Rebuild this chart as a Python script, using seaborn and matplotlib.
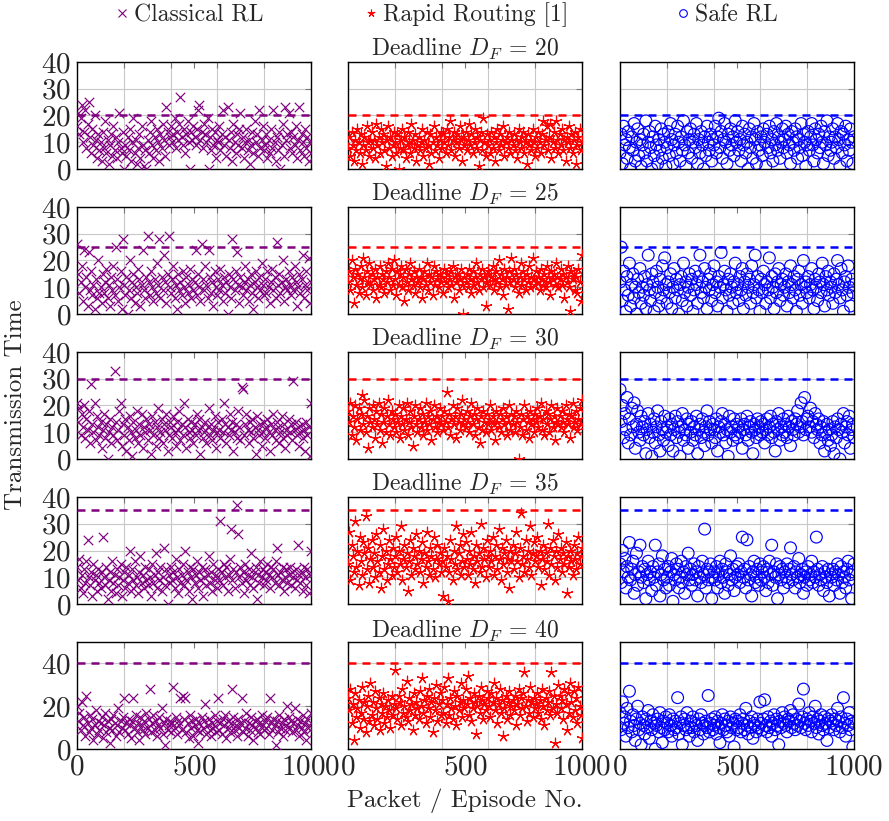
import numpy as np
import pandas as pd
import matplotlib
matplotlib.use("Agg")
import matplotlib.pyplot as plt
from matplotlib.lines import Line2D
import seaborn as sns

# ---------------------------------------------------------------------------
# Transmission time per packet/episode, one list per method and deadline
# ---------------------------------------------------------------------------
deadlines = [20, 25, 30, 35, 40]
methods = ["Classical RL", "Rapid Routing [1]", "Safe RL"]

crl_20 = [16, 21, 13, 19, 24, 10, 14, 22, 8, 17, 25, 12, 6, 15, 9, 20, 11, 4, 13, 7,
          10, 3, 14, 8, 18, 6, 11, 2, 9, 13, 5, 16, 7, 12, 4, 10, 21, 8, 6, 14,
          0, 9, 5, 12, 7, 15, 3, 10, 19, 6, 11, 2, 8, 13, 4, 16, 9, 1, 7, 0,
          11, 6, 14, 18, 9, 4, 12, 7, 15, 10, 3, 13, 8, 17, 11, 5, 23, 14, 9, 12,
          16, 10, 13, 19, 8, 14, 11, 17, 27, 12, 9, 15, 6, 13, 18, 10, 0, 14, 11, 16,
          12, 9, 15, 22, 24, 11, 14, 8, 17, 13, 10, 19, 0, 12, 7, 15, 9, 14, 4, 11,
          10, 16, 7, 13, 22, 9, 12, 5, 23, 11, 8, 14, 3, 17, 10, 6, 13, 9, 15, 21,
          8, 12, 4, 10, 15, 7, 11, 2, 9, 14, 6, 18, 10, 13, 5, 22, 8, 11, 16, 7,
          9, 13, 4, 11, 6, 15, 8, 22, 10, 3, 12, 7, 14, 0, 9, 17, 5, 23, 11, 13,
          21, 8, 14, 6, 12, 9, 16, 4, 11, 23, 7, 13, 10, 5, 15, 8, 12, 3, 10, 6]
rr_20 = [8, 12, 5, 14, 9, 3, 11, 7, 15, 10, 6, 13, 2, 9, 12, 7, 16, 10, 5, 11,
         14, 8, 11, 4, 17, 9, 12, 6, 15, 10, 13, 7, 1, 11, 16, 8, 12, 5, 9, 14,
         10, 6, 13, 0, 8, 11, 15, 7, 12, 4, 9, 14, 10, 6, 17, 11, 8, 13, 3, 9,
         12, 7, 10, 15, 5, 11, 8, 14, 9, 2, 13, 6, 10, 16, 7, 12, 9, 4, 11, 14,
         8, 13, 10, 6, 15, 9, 12, 18, 7, 11, 14, 5, 10, 13, 8, 16, 11, 3, 12, 9,
         14, 7, 11, 17, 9, 13, 6, 10, 15, 8, 12, 1, 11, 14, 7, 19, 10, 5, 13, 9,
         11, 6, 14, 8, 12, 3, 10, 15, 7, 13, 9, 11, 16, 5, 10, 12, 8, 14, 6, 11,
         9, 13, 7, 11, 4, 15, 10, 8, 12, 14, 6, 10, 2, 13, 9, 11, 7, 15, 10, 5,
         12, 8, 14, 10, 6, 13, 18, 9, 11, 16, 7, 12, 17, 4, 10, 14, 8, 18, 11, 6,
         13, 9, 15, 7, 11, 3, 12, 10, 16, 8, 13, 6, 11, 14, 2, 9, 12, 15, 7, 10]
srl_20 = [6, 13, 2, 16, 9, 11, 4, 14, 8, 0, 12, 7, 17, 3, 10, 15, 5, 11, 1, 9,
          13, 6, 18, 3, 10, 14, 8, 0, 12, 5, 16, 9, 2, 11, 7, 15, 4, 13, 10, 1,
          8, 14, 5, 17, 11, 2, 9, 13, 6, 16, 10, 3, 12, 7, 18, 9, 1, 14, 6, 11,
          15, 4, 10, 13, 8, 17, 2, 11, 6, 14, 9, 0, 12, 5, 16, 10, 7, 13, 3, 11,
          9, 16, 6, 12, 19, 8, 14, 4, 11, 17, 10, 2, 13, 7, 15, 9, 12, 5, 18, 10,
          14, 7, 11, 3, 16, 9, 13, 6, 10, 0, 15, 8, 12, 4, 17, 11, 2, 14, 7, 9,
          12, 5, 15, 10, 1, 13, 8, 16, 6, 11, 3, 14, 9, 17, 7, 12, 4, 10, 15, 8,
          11, 16, 6, 13, 9, 2, 14, 10, 7, 15, 12, 4, 11, 8, 17, 5, 13, 10, 1, 9,
          14, 7, 12, 17, 9, 3, 15, 11, 6, 13, 8, 16, 10, 2, 14, 9, 18, 5, 12, 7,
          10, 15, 4, 12, 8, 17, 11, 1, 14, 6, 13, 9, 16, 3, 11, 7, 15, 10, 2, 12]

crl_25 = [26, 15, 8, 12, 18, 5, 24, 10, 14, 3, 23, 9, 16, 7, 11, 2, 13, 6, 20, 8,
          10, 4, 15, 8, 12, 17, 6, 11, 3, 14, 9, 18, 7, 25, 13, 5, 10, 16, 2, 28,
          11, 7, 14, 0, 9, 20, 6, 12, 15, 4, 10, 8, 17, 13, 3, 11, 24, 9, 6, 14,
          29, 12, 7, 16, 10, 5, 13, 8, 19, 11, 28, 6, 14, 9, 22, 12, 4, 15, 29, 10,
          8, 13, 18, 6, 11, 2, 15, 9, 12, 7, 16, 10, 4, 14, 8, 11, 17, 6, 13, 9,
          12, 24, 7, 15, 10, 5, 26, 13, 9, 18, 11, 6, 24, 14, 8, 12, 3, 16, 10, 7,
          13, 9, 17, 11, 5, 14, 8, 12, 0, 15, 10, 6, 28, 13, 9, 16, 23, 11, 4, 14,
          10, 7, 12, 18, 9, 13, 5, 11, 15, 8, 2, 12, 16, 10, 6, 14, 9, 19, 11, 7,
          13, 8, 16, 10, 4, 12, 17, 9, 14, 6, 27, 11, 15, 8, 12, 20, 5, 10, 13, 9,
          16, 11, 7, 14, 9, 18, 12, 3, 10, 15, 8, 13, 22, 6, 11, 16, 9, 21, 4, 12]
rr_25 = [12, 16, 9, 20, 14, 4, 17, 11, 15, 8, 13, 18, 10, 21, 14, 7, 16, 12, 19, 11,
         15, 9, 13, 17, 6, 14, 11, 18, 10, 15, 13, 8, 16, 12, 19, 14, 9, 17, 11, 20,
         13, 7, 16, 11, 15, 18, 10, 14, 5, 17, 12, 9, 15, 19, 13, 11, 16, 8, 14, 12,
         17, 10, 14, 6, 13, 16, 11, 19, 9, 15, 12, 14, 7, 18, 11, 16, 13, 10, 15, 12,
         14, 8, 17, 12, 15, 10, 13, 16, 11, 18, 6, 14, 12, 15, 9, 13, 17, 11, 0, 14,
         12, 15, 10, 17, 13, 8, 16, 11, 14, 19, 12, 9, 15, 13, 17, 10, 14, 3, 12, 16,
         15, 11, 14, 18, 9, 13, 16, 12, 20, 10, 15, 13, 7, 17, 11, 14, 2, 16, 12, 21,
         13, 17, 10, 15, 12, 8, 14, 19, 11, 16, 13, 9, 15, 12, 18, 10, 14, 21, 13, 11,
         16, 12, 14, 9, 17, 13, 11, 15, 10, 18, 14, 12, 7, 16, 13, 15, 11, 19, 14, 10,
         13, 17, 11, 15, 6, 14, 12, 18, 10, 1, 16, 13, 15, 9, 14, 8, 17, 12, 5, 22]
srl_25 = [12, 25, 5, 16, 9, 1, 14, 7, 19, 3, 11, 15, 6, 10, 0, 13, 8, 17, 4, 10,
          7, 14, 2, 11, 22, 9, 5, 15, 12, 1, 8, 16, 10, 3, 13, 6, 18, 9, 21, 11,
          4, 12, 8, 15, 2, 10, 17, 6, 13, 9, 0, 11, 14, 5, 19, 8, 12, 3, 10, 15,
          7, 13, 1, 9, 16, 11, 4, 14, 22, 8, 12, 6, 17, 10, 2, 13, 9, 15, 5, 11,
          18, 8, 12, 3, 14, 10, 23, 6, 11, 16, 9, 1, 13, 7, 15, 10, 4, 12, 19, 8,
          11, 5, 14, 9, 17, 2, 12, 7, 15, 10, 13, 4, 18, 8, 11, 22, 6, 14, 9, 1,
          13, 8, 16, 11, 4, 12, 9, 21, 6, 14, 10, 2, 15, 8, 12, 17, 5, 11, 13, 7,
          10, 15, 3, 12, 8, 18, 11, 6, 14, 9, 1, 13, 16, 7, 11, 4, 20, 10, 12, 8,
          14, 6, 11, 17, 9, 2, 13, 10, 5, 15, 12, 8, 19, 11, 3, 14, 9, 16, 7, 12,
          10, 4, 15, 8, 13, 20, 11, 6, 17, 9, 1, 12, 14, 7, 18, 10, 3, 13, 8, 11]

crl_30 = [21, 14, 19, 9, 17, 12, 20, 8, 15, 11, 18, 6, 28, 13, 10, 21, 7, 16, 12, 9,
          14, 4, 11, 17, 8, 13, 0, 10, 15, 6, 12, 9, 33, 14, 7, 11, 18, 21, 5, 13,
          9, 15, 3, 12, 7, 16, 10, 1, 14, 8, 11, 18, 6, 13, 9, 17, 4, 12, 10, 15,
          7, 13, 11, 2, 16, 9, 14, 5, 12, 19, 8, 10, 15, 6, 13, 11, 17, 3, 9, 14,
          12, 8, 16, 10, 5, 14, 11, 18, 7, 13, 9, 21, 12, 4, 15, 10, 8, 14, 11, 6,
          13, 9, 17, 11, 15, 2, 12, 8, 10, 14, 6, 12, 19, 9, 13, 7, 11, 16, 4, 10,
          14, 11, 8, 15, 10, 21, 13, 6, 12, 9, 17, 11, 14, 3, 10, 13, 8, 18, 12, 7,
          27, 26, 9, 13, 17, 11, 6, 14, 10, 15, 8, 12, 2, 16, 11, 9, 13, 5, 10, 14,
          8, 12, 15, 10, 3, 13, 9, 17, 11, 7, 14, 12, 6, 10, 16, 8, 13, 4, 11, 9,
          15, 10, 13, 7, 29, 11, 14, 9, 12, 5, 10, 13, 8, 11, 3, 14, 9, 12, 1, 21]
rr_30 = [18, 14, 21, 9, 16, 12, 20, 7, 15, 19, 11, 17, 24, 13, 22, 10, 16, 4, 19, 14,
         12, 20, 15, 8, 18, 13, 21, 11, 17, 6, 14, 19, 10, 16, 22, 13, 9, 18, 15, 12,
         17, 10, 14, 20, 8, 16, 13, 19, 11, 15, 21, 9, 14, 18, 12, 5, 16, 20, 13, 10,
         15, 19, 12, 17, 9, 14, 21, 11, 16, 13, 18, 7, 15, 20, 12, 16, 10, 14, 19, 13,
         16, 11, 18, 14, 25, 12, 17, 9, 15, 20, 13, 16, 8, 19, 14, 11, 17, 22, 13, 15,
         12, 18, 14, 10, 16, 21, 13, 17, 9, 15, 19, 12, 6, 16, 11, 18, 14, 10, 17, 13,
         15, 20, 11, 16, 13, 7, 18, 14, 12, 17, 10, 15, 19, 13, 16, 9, 14, 20, 11, 17,
         13, 16, 10, 18, 14, 0, 12, 17, 9, 15, 20, 11, 16, 14, 8, 18, 13, 15, 10, 17,
         14, 19, 12, 16, 21, 11, 15, 9, 18, 13, 17, 10, 15, 20, 12, 16, 7, 14, 19, 13,
         16, 12, 18, 14, 10, 20, 15, 13, 17, 8, 16, 21, 12, 14, 18, 11, 15, 19, 13, 22]
srl_30 = [26, 14, 20, 8, 17, 11, 23, 6, 15, 9, 19, 12, 21, 4, 13, 18, 10, 7, 16, 12,
          9, 14, 2, 11, 17, 8, 13, 1, 10, 15, 6, 12, 18, 9, 3, 14, 11, 7, 16, 10,
          12, 5, 15, 9, 13, 3, 11, 16, 8, 14, 10, 1, 12, 17, 7, 11, 9, 15, 4, 13,
          10, 14, 7, 12, 9, 16, 2, 11, 13, 8, 15, 10, 5, 12, 18, 9, 14, 11, 6, 13,
          11, 8, 15, 3, 12, 10, 14, 17, 9, 13, 6, 11, 1, 16, 10, 12, 7, 15, 9, 13,
          8, 12, 10, 15, 4, 11, 13, 9, 16, 7, 12, 14, 10, 2, 13, 11, 8, 15, 12, 9,
          14, 10, 13, 6, 11, 15, 9, 12, 16, 8, 13, 10, 3, 14, 11, 17, 7, 12, 9, 15,
          10, 13, 8, 16, 12, 5, 14, 11, 9, 15, 13, 18, 10, 12, 21, 14, 9, 23, 11, 15,
          16, 12, 19, 10, 14, 8, 17, 13, 11, 15, 6, 12, 9, 14, 3, 10, 13, 7, 11, 5,
          9, 14, 2, 12, 8, 15, 11, 0, 13, 10, 17, 6, 12, 14, 9, 16, 4, 11, 13, 8]

crl_35 = [14, 9, 17, 6, 11, 4, 13, 8, 16, 24, 10, 7, 12, 3, 15, 9, 11, 5, 13, 8,
          6, 12, 25, 10, 7, 14, 2, 9, 12, 5, 16, 8, 11, 4, 13, 7, 10, 15, 3, 9,
          12, 6, 14, 8, 11, 20, 5, 13, 9, 16, 7, 10, 4, 12, 18, 8, 11, 6, 14, 9,
          7, 13, 10, 3, 15, 8, 11, 19, 6, 12, 9, 14, 5, 10, 21, 7, 13, 0, 11, 8,
          14, 9, 12, 6, 17, 10, 4, 13, 8, 11, 15, 7, 20, 9, 12, 5, 14, 10, 2, 13,
          8, 11, 16, 6, 12, 9, 14, 3, 10, 13, 7, 11, 18, 8, 12, 5, 15, 9, 11, 6,
          13, 9, 31, 12, 7, 15, 10, 14, 5, 11, 17, 28, 9, 13, 6, 12, 37, 26, 10, 14,
          8, 12, 4, 15, 9, 11, 13, 7, 19, 10, 6, 12, 14, 2, 11, 8, 16, 10, 13, 7,
          12, 9, 15, 11, 6, 14, 10, 13, 8, 16, 21, 11, 7, 12, 9, 14, 5, 10, 13, 8,
          11, 14, 7, 12, 10, 6, 13, 9, 22, 11, 8, 12, 5, 14, 10, 7, 13, 4, 11, 20]
rr_35 = [15, 27, 9, 22, 18, 12, 31, 14, 20, 7, 25, 16, 11, 23, 19, 33, 13, 21, 8, 17,
         24, 14, 19, 10, 26, 16, 12, 22, 6, 18, 28, 13, 20, 9, 15, 24, 17, 11, 21, 14,
         18, 25, 12, 20, 15, 29, 9, 17, 22, 14, 19, 5, 16, 24, 11, 21, 18, 13, 26, 15,
         20, 12, 17, 23, 8, 19, 14, 27, 16, 11, 21, 18, 13, 25, 10, 17, 22, 15, 19, 12,
         16, 3, 21, 14, 18, 1, 12, 24, 17, 9, 20, 15, 29, 13, 19, 22, 11, 16, 26, 14,
         23, 17, 11, 20, 15, 27, 13, 18, 8, 22, 16, 19, 12, 30, 14, 21, 17, 10, 24, 18,
         14, 20, 16, 25, 11, 18, 22, 13, 28, 17, 9, 21, 15, 19, 24, 12, 17, 6, 20, 16,
         22, 13, 19, 27, 16, 10, 21, 34, 15, 18, 12, 24, 17, 20, 14, 29, 11, 19, 23, 16,
         18, 25, 14, 20, 7, 17, 22, 13, 19, 16, 30, 11, 21, 15, 24, 18, 9, 20, 14, 26,
         17, 21, 12, 19, 15, 23, 4, 18, 14, 20, 16, 11, 22, 17, 13, 19, 25, 15, 18, 21]
srl_35 = [15, 8, 20, 12, 17, 6, 14, 10, 23, 9, 13, 16, 4, 11, 19, 7, 12, 22, 10, 14,
          8, 13, 2, 11, 16, 9, 12, 5, 14, 10, 22, 7, 12, 15, 3, 11, 18, 9, 13, 6,
          10, 14, 7, 12, 17, 1, 11, 9, 15, 13, 6, 10, 16, 8, 12, 4, 14, 11, 19, 9,
          13, 7, 11, 15, 9, 12, 3, 14, 10, 8, 16, 11, 28, 6, 13, 9, 12, 15, 2, 10,
          12, 9, 14, 6, 11, 16, 8, 13, 10, 4, 15, 12, 7, 11, 18, 9, 13, 5, 10, 14,
          11, 15, 8, 12, 25, 10, 13, 6, 24, 9, 14, 11, 3, 12, 16, 8, 10, 13, 7, 15,
          9, 12, 14, 10, 5, 13, 8, 16, 11, 22, 7, 12, 10, 15, 2, 11, 14, 9, 13, 6,
          12, 10, 15, 8, 13, 21, 11, 9, 14, 6, 12, 10, 17, 8, 11, 13, 4, 10, 12, 7,
          14, 9, 11, 16, 8, 12, 10, 25, 13, 7, 11, 9, 14, 5, 12, 10, 8, 13, 3, 11,
          10, 13, 7, 12, 9, 15, 11, 4, 14, 8, 12, 10, 6, 13, 16, 9, 11, 2, 12, 15]

crl_40 = [20, 13, 17, 9, 22, 11, 15, 6, 25, 12, 8, 16, 10, 14, 4, 11, 18, 7, 13, 9,
          12, 15, 5, 11, 17, 8, 13, 10, 3, 14, 9, 16, 12, 6, 11, 19, 8, 13, 10, 15,
          24, 9, 12, 7, 14, 11, 5, 13, 24, 10, 16, 8, 12, 4, 15, 11, 9, 13, 7, 17,
          10, 14, 28, 8, 12, 16, 9, 13, 6, 11, 15, 10, 19, 7, 12, 2, 14, 9, 11, 13,
          8, 12, 29, 10, 15, 7, 13, 11, 24, 9, 25, 14, 24, 8, 12, 5, 16, 10, 13, 6,
          11, 14, 9, 3, 12, 8, 15, 10, 13, 21, 7, 11, 14, 9, 6, 12, 10, 16, 8, 13,
          24, 9, 12, 7, 14, 11, 16, 5, 13, 10, 8, 12, 28, 15, 9, 11, 6, 14, 10, 12,
          24, 8, 13, 10, 17, 6, 12, 9, 15, 11, 4, 13, 10, 14, 8, 12, 7, 16, 11, 9,
          13, 10, 15, 7, 24, 12, 9, 14, 11, 2, 13, 8, 16, 10, 12, 6, 14, 9, 11, 20,
          15, 10, 13, 8, 12, 19, 9, 14, 11, 6, 13, 10, 16, 8, 12, 4, 14, 11, 9, 17]
rr_40 = [24, 18, 28, 12, 21, 4, 26, 15, 19, 23, 10, 17, 29, 14, 22, 8, 20, 25, 13, 31,
         16, 22, 11, 27, 19, 14, 24, 9, 21, 17, 26, 12, 20, 15, 23, 18, 10, 25, 16, 21,
         37, 19, 14, 25, 22, 11, 28, 17, 20, 15, 32, 13, 24, 18, 21, 9, 26, 16, 22, 19,
         14, 27, 20, 33, 17, 23, 12, 25, 19, 28, 15, 22, 8, 24, 18, 30, 13, 21, 26, 16,
         23, 17, 29, 12, 21, 33, 16, 24, 19, 14, 27, 20, 11, 25, 18, 22, 31, 15, 23, 19,
         28, 21, 34, 16, 24, 13, 19, 26, 22, 7, 20, 25, 17, 29, 23, 14, 21, 18, 27, 24,
         20, 15, 26, 22, 31, 18, 24, 12, 21, 28, 17, 23, 6, 19, 25, 14, 22, 27, 16, 20,
         23, 18, 25, 11, 21, 28, 16, 24, 19, 26, 36, 20, 13, 23, 17, 29, 22, 15, 24, 19,
         21, 26, 17, 23, 14, 28, 20, 11, 24, 18, 22, 27, 16, 36, 19, 25, 3, 21, 17, 30,
         25, 19, 23, 14, 28, 21, 9, 26, 17, 31, 22, 15, 27, 18, 24, 12, 29, 20, 16, 5]
srl_40 = [17, 9, 22, 12, 15, 6, 19, 10, 27, 13, 8, 16, 11, 4, 14, 20, 9, 12, 2, 15,
          11, 7, 14, 10, 18, 5, 13, 9, 16, 12, 0, 11, 14, 8, 17, 10, 3, 13, 9, 15,
          12, 8, 16, 11, 6, 14, 9, 13, 10, 24, 7, 12, 15, 2, 11, 14, 9, 17, 10, 6,
          13, 10, 15, 8, 12, 11, 4, 14, 9, 16, 12, 7, 11, 13, 10, 25, 8, 12, 14, 9,
          11, 15, 7, 13, 10, 3, 12, 16, 9, 14, 11, 8, 13, 6, 15, 10, 12, 1, 14, 9,
          13, 10, 16, 8, 12, 14, 9, 19, 11, 7, 13, 10, 15, 5, 12, 11, 8, 14, 10, 22,
          12, 9, 14, 23, 11, 8, 15, 10, 13, 6, 12, 16, 9, 14, 11, 2, 13, 10, 17, 12,
          15, 11, 8, 14, 13, 18, 10, 16, 12, 9, 14, 11, 21, 13, 10, 15, 28, 12, 9, 14,
          11, 17, 13, 8, 15, 12, 20, 10, 14, 7, 13, 16, 11, 9, 15, 12, 4, 14, 10, 13,
          16, 12, 9, 14, 11, 19, 13, 8, 15, 10, 24, 12, 6, 14, 11, 17, 9, 13, 1, 12]

series = {
    20: [crl_20, rr_20, srl_20],
    25: [crl_25, rr_25, srl_25],
    30: [crl_30, rr_30, srl_30],
    35: [crl_35, rr_35, srl_35],
    40: [crl_40, rr_40, srl_40],
}

# long-form table: episode number, transmission time, method, deadline
rows = []
for d in deadlines:
    for m, vals in zip(methods, series[d]):
        ep = np.linspace(0, 1000, len(vals))
        rows.append(pd.DataFrame({"episode": ep, "time": vals, "method": m, "deadline": d}))
df = pd.concat(rows, ignore_index=True)

# ---------------------------------------------------------------------------
# Styling
# ---------------------------------------------------------------------------
sns.set_theme(style="white")
plt.rcParams["font.family"] = ["cmr10", "DejaVu Serif"]
plt.rcParams["mathtext.fontset"] = "cm"
plt.rcParams["axes.formatter.use_mathtext"] = True
plt.rcParams["axes.unicode_minus"] = False

colors = {"Classical RL": "#800080", "Rapid Routing [1]": "#ff0000", "Safe RL": "#0000ff"}
markers = {"Classical RL": "x", "Rapid Routing [1]": (5, 2, 0), "Safe RL": "o"}
sizes = {"Classical RL": 46, "Rapid Routing [1]": 58, "Safe RL": 72}

FS = 17
TICK_FS = 21
W, H = 889, 821
fig = plt.figure(figsize=(W / 100, H / 100), dpi=100)

col_left = [77, 348, 620]
row_top = [62, 207, 352, 497, 642]
pw, ph = 234, 107

for r, d in enumerate(deadlines):
    last = r == len(deadlines) - 1
    for c, m in enumerate(methods):
        ax = fig.add_axes([col_left[c] / W, 1 - (row_top[r] + ph) / H, pw / W, ph / H])
        sub = df[(df["deadline"] == d) & (df["method"] == m)]
        kw = dict(marker=markers[m], s=sizes[m], linewidth=0.85, legend=False, zorder=3)
        if m == "Safe RL":
            kw.update(facecolor="none", edgecolor=colors[m])
        else:
            kw.update(color=colors[m])
        sns.scatterplot(data=sub, x="episode", y="time", ax=ax, **kw)
        ax.axhline(d, color=colors[m], lw=1.8, ls=(0, (3.2, 2.4)), zorder=4)

        ax.set_xlim(0, 1000)
        ymax = 50 if last else 40
        ax.set_ylim(0, ymax)
        ax.set_xticks([0, 500, 1000])
        ax.set_xticks([200, 400, 600, 800], minor=True)
        ax.set_yticks([0, 20, 40] if last else [0, 10, 20, 30, 40])
        ax.grid(False)
        ax.grid(True, which="minor", axis="x", color="#c8c8c8", lw=0.8)
        ax.grid(True, which="major", axis="y", color="#c8c8c8", lw=0.8)
        ax.tick_params(which="both", direction="in", length=4, width=0.8,
                       color="#777777", labelsize=TICK_FS, pad=4,
                       top=True, right=True)
        if not last:
            ax.tick_params(labelbottom=False)
        if c != 0:
            ax.tick_params(labelleft=False)
        for sp in ax.spines.values():
            sp.set_color("black")
            sp.set_linewidth(1.0)
        ax.set_xlabel("")
        ax.set_ylabel("")
        if c == 1:
            ax.set_title(rf"Deadline $D_F$ = {d}", fontsize=FS, pad=3)

fig.text(0.018, 1 - 405 / H, "Transmission Time", rotation=90, ha="center", va="center", fontsize=18)
fig.text(465 / W, 1 - 801 / H, "Packet / Episode No.", ha="center", va="center", fontsize=18)

# legend entries placed along the top
legend_x = [115, 364, 676]
for m, lx in zip(methods, legend_x):
    if m == "Safe RL":
        h = Line2D([], [], marker="o", ls="none", markersize=5.5, mfc="none",
                   mec=colors[m], mew=0.8)
    else:
        h = Line2D([], [], marker=markers[m], ls="none", markersize=5.5,
                   color=colors[m], mew=0.8)
    fig.legend([h], [m], loc="center left", bbox_to_anchor=(lx / W, 1 - 15 / H),
               frameon=False, fontsize=FS, handlelength=0.6, handletextpad=0.2,
               borderpad=0, borderaxespad=0)

fig.savefig("out.png", dpi=100)
